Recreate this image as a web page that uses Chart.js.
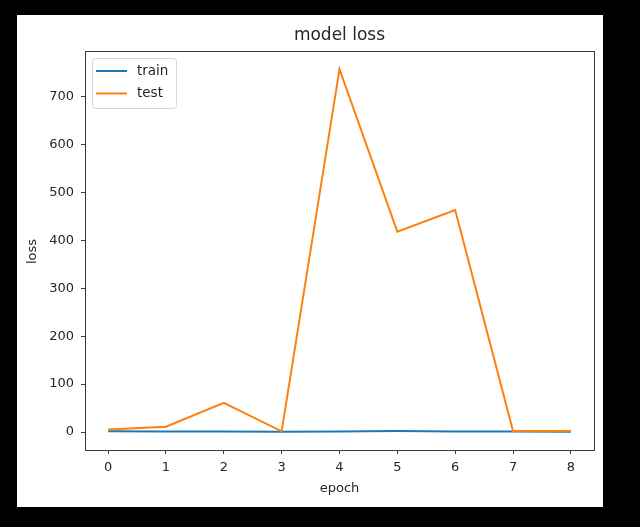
<!DOCTYPE html>
<html>
<head>
<meta charset="utf-8">
<script src="https://cdn.jsdelivr.net/npm/chart.js@4"></script>
<style>
  html, body { margin: 0; padding: 0; background: #000; }
  canvas { display: block; }
</style>
</head>
<body>
<canvas id="c" width="640" height="527"></canvas>
<script>
const epochs = [0, 1, 2, 3, 4, 5, 6, 7, 8];
const trainLoss = [1.8, 1.1, 0.9, 0.8, 1.2, 1.9, 1.1, 0.9, 0.8];
const testLoss = [5.5, 11, 61, 1.5, 757, 418, 463, 2, 2];
const xTickValues = [0, 1, 2, 3, 4, 5, 6, 7, 8];
const yTickValues = [0, 100, 200, 300, 400, 500, 600, 700];
const seriesNames = ['train', 'test'];
const titleText = 'model loss';
const xLabel = 'epoch';
const yLabel = 'loss';

const FONT = '"DejaVu Sans", sans-serif';
const TXT = '#262626';

const decor = {
  id: 'decor',
  beforeDraw(chart) {
    const ctx = chart.ctx;
    ctx.save();
    ctx.fillStyle = '#000';
    ctx.fillRect(0, 0, chart.width, chart.height);
    ctx.fillStyle = '#fff';
    ctx.fillRect(17, 15, 586, 492);
    ctx.restore();
  },
  afterDraw(chart) {
    const ctx = chart.ctx;
    const a = chart.chartArea;
    ctx.save();
    // frame
    ctx.strokeStyle = '#3a3a3a';
    ctx.lineWidth = 1;
    ctx.strokeRect(Math.round(a.left) + 0.5, Math.round(a.top) + 0.5,
                   Math.round(a.right - a.left), Math.round(a.bottom - a.top));
    // title
    ctx.fillStyle = TXT;
    ctx.font = '17px ' + FONT;
    ctx.textAlign = 'center';
    ctx.textBaseline = 'middle';
    ctx.fillText(titleText, (a.left + a.right) / 2, 36);
    // axis labels
    ctx.font = '13px ' + FONT;
    ctx.fillText(xLabel, (a.left + a.right) / 2, 489);
    ctx.translate(33, (a.top + a.bottom) / 2 + 1);
    ctx.rotate(-Math.PI / 2);
    ctx.fillText(yLabel, 0, 0);
    ctx.restore();

    // legend
    ctx.save();
    const lx = 92.5, ly = 58.5, lw = 84, lh = 50, r = 3;
    ctx.beginPath();
    ctx.moveTo(lx + r, ly);
    ctx.lineTo(lx + lw - r, ly);
    ctx.arcTo(lx + lw, ly, lx + lw, ly + r, r);
    ctx.lineTo(lx + lw, ly + lh - r);
    ctx.arcTo(lx + lw, ly + lh, lx + lw - r, ly + lh, r);
    ctx.lineTo(lx + r, ly + lh);
    ctx.arcTo(lx, ly + lh, lx, ly + lh - r, r);
    ctx.lineTo(lx, ly + r);
    ctx.arcTo(lx, ly, lx + r, ly, r);
    ctx.closePath();
    ctx.fillStyle = 'rgba(255,255,255,0.85)';
    ctx.fill();
    ctx.strokeStyle = '#d6d6d6';
    ctx.lineWidth = 1;
    ctx.stroke();
    chart.data.datasets.forEach((ds, i) => {
      const y = 71 + i * 22.5;
      ctx.strokeStyle = ds.borderColor;
      ctx.lineWidth = 2;
      ctx.beginPath();
      ctx.moveTo(96, y);
      ctx.lineTo(127, y);
      ctx.stroke();
      ctx.fillStyle = TXT;
      ctx.font = '13.5px ' + FONT;
      ctx.textAlign = 'left';
      ctx.textBaseline = 'middle';
      ctx.fillText(ds.label, 137, y);
    });
    ctx.restore();
  }
};

new Chart(document.getElementById('c'), {
  type: 'line',
  data: {
    datasets: [
      {
        label: seriesNames[0],
        data: epochs.map((e, i) => ({ x: e, y: trainLoss[i] })),
        borderColor: '#1f77b4',
        backgroundColor: '#1f77b4',
        borderWidth: 2,
        pointRadius: 0,
        tension: 0,
        order: 1
      },
      {
        label: seriesNames[1],
        data: epochs.map((e, i) => ({ x: e, y: testLoss[i] })),
        borderColor: '#ff7f0e',
        backgroundColor: '#ff7f0e',
        borderWidth: 2,
        pointRadius: 0,
        tension: 0,
        order: 0
      }
    ]
  },
  options: {
    responsive: false,
    animation: false,
    devicePixelRatio: 1,
    layout: { padding: { top: 51, right: 46, left: 0, bottom: 0 } },
    plugins: { legend: { display: false }, tooltip: { enabled: false }, title: { display: false } },
    scales: {
      x: {
        type: 'linear',
        min: -0.4,
        max: 8.4,
        afterBuildTicks: s => { s.ticks = xTickValues.map(v => ({ value: v })); },
        afterFit: s => { s.height = 77; },
        ticks: { color: TXT, font: { family: FONT, size: 13 }, padding: 6, maxRotation: 0, autoSkip: false },
        grid: { display: true, drawOnChartArea: false, drawTicks: true, tickLength: 4, color: '#3a3a3a' },
        border: { display: true, color: '#3a3a3a' }
      },
      y: {
        type: 'linear',
        min: -37.5,
        max: 795,
        afterBuildTicks: s => { s.ticks = yTickValues.map(v => ({ value: v })); },
        afterFit: s => { s.width = 85; },
        ticks: { color: TXT, font: { family: FONT, size: 13 }, padding: 7, autoSkip: false },
        grid: { display: true, drawOnChartArea: false, drawTicks: true, tickLength: 4, color: '#3a3a3a' },
        border: { display: true, color: '#3a3a3a' }
      }
    }
  },
  plugins: [decor]
});
</script>
</body>
</html>
